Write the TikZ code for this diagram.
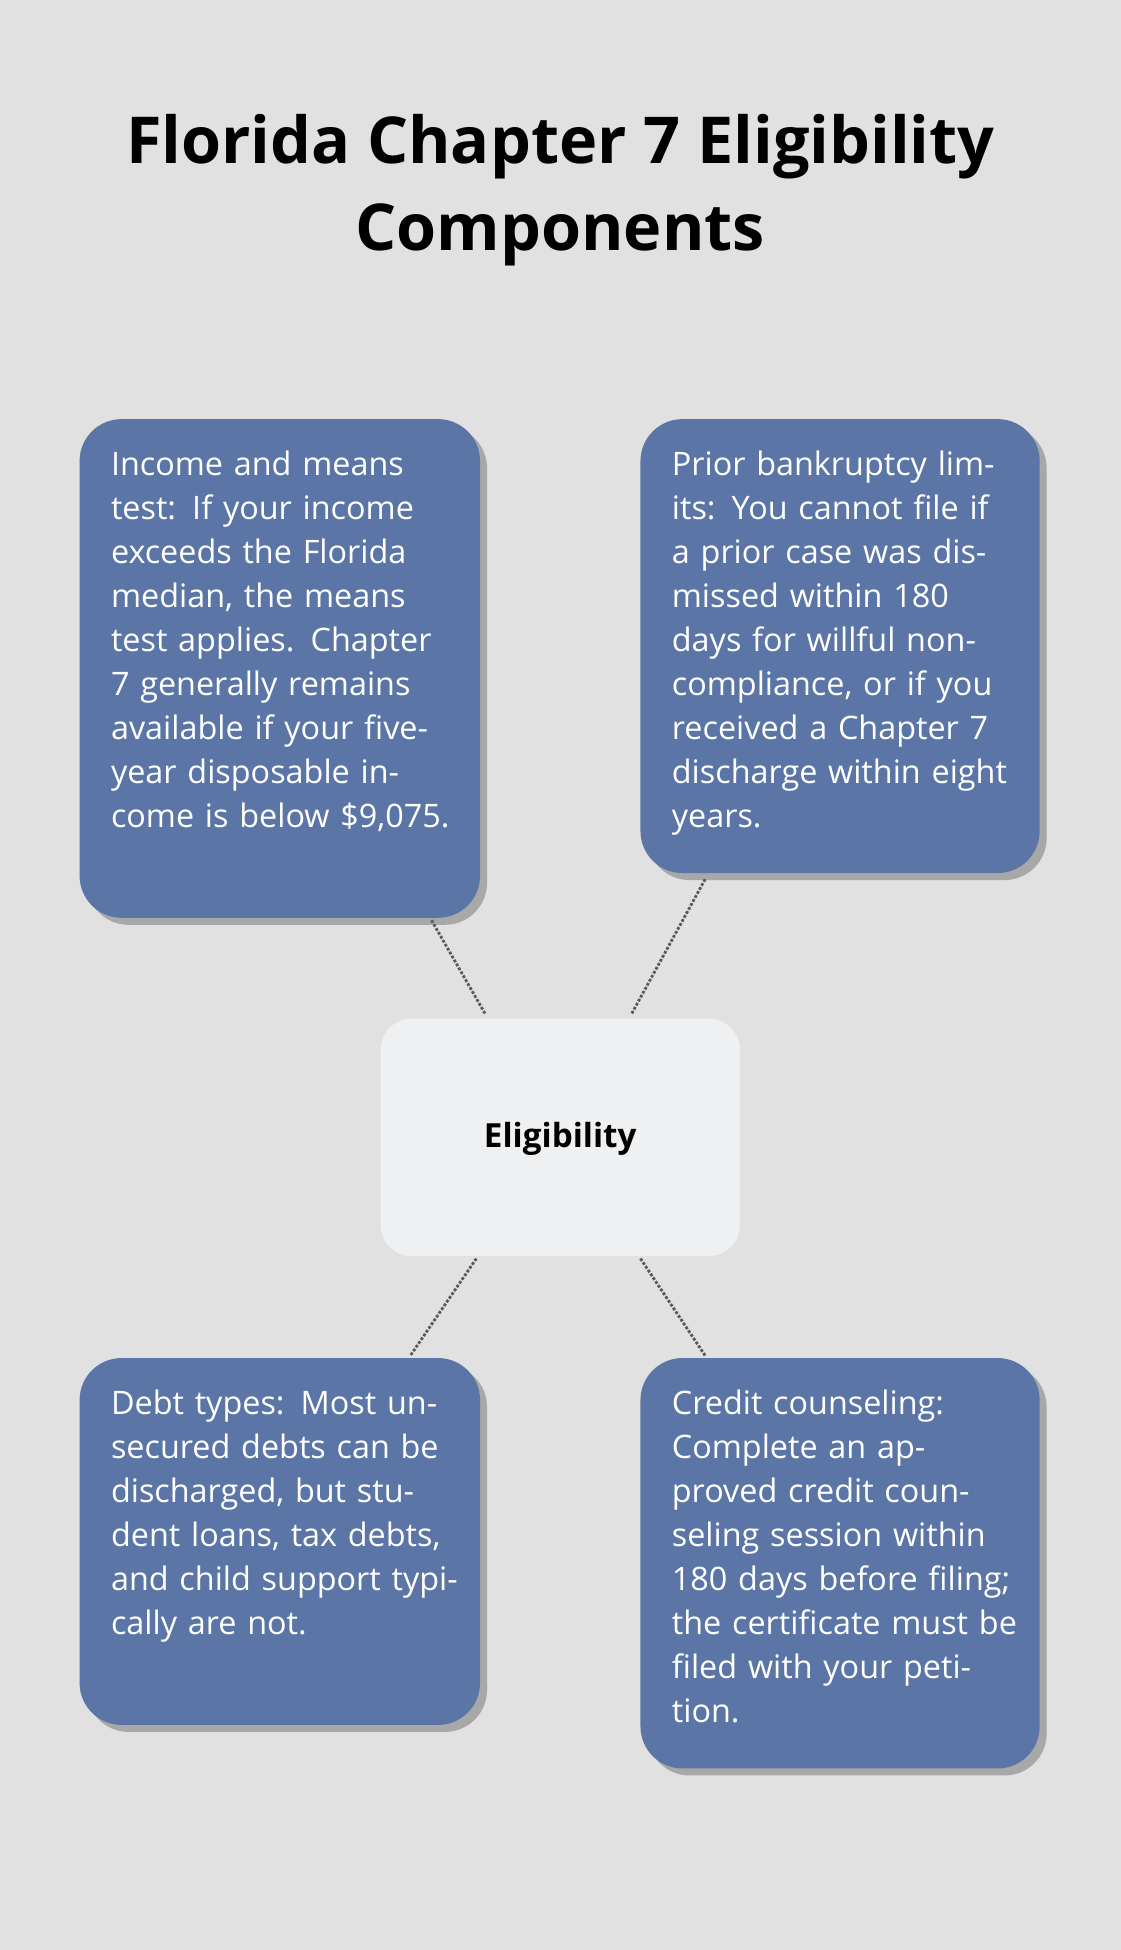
\documentclass[tikz,border=0pt]{standalone}
\usepackage{fontspec}
\setmainfont{Open Sans}
\usetikzlibrary{shadows}
\definecolor{bgcol}{HTML}{E0E1E0}
\definecolor{boxcol}{HTML}{5B76A6}
\definecolor{midcol}{HTML}{EFF0F2}
\begin{document}
\begin{tikzpicture}[x=0.025cm,y=-0.025cm,
  card/.style={fill=boxcol,rounded corners=24pt,
    drop shadow={shadow xshift=4pt,shadow yshift=-4pt,opacity=0.25,fill=black}},
  body/.style={anchor=north west,inner sep=0pt,text=white,align=left,text width=7.0cm,
    font=\fontsize{18.5pt}{25.2pt}\selectfont},
  link/.style={densely dotted,line width=1.6pt,black!65}]
  \fill[bgcol] (0,0) rectangle (901,1568);
  \useasboundingbox (0,0) rectangle (901,1568);
  \node[font=\fontsize{37pt}{50pt}\selectfont\bfseries,align=center] (title) at (450.5,153)
    {Florida Chapter 7 Eligibility\\Components};
  % cards
  \path[card] (64,337) rectangle (386,738);
  \path[card] (515,337) rectangle (836,702);
  \path[card] (64,1092) rectangle (386,1387);
  \path[card] (515,1092) rectangle (836,1422);
  \path[fill=midcol,rounded corners=18pt] (306,819) rectangle (595,1010);
  \node[font=\fontsize{19pt}{24pt}\selectfont\bfseries] (elig) at (450.5,916) {Eligibility};
  \node[body] (income) at (89,362) {Income and means test: If your income exceeds the Florida median, the means test applies. Chapter 7 generally remains available if your five-year disposable income is below \$9,075.};
  \node[body] (prior) at (540,362) {Prior bankruptcy limits: You cannot file if a prior case was dismissed within 180 days for willful noncompliance, or if you received a Chapter 7 discharge within eight years.};
  \node[body] (debt) at (89,1117) {Debt types: Most unsecured debts can be discharged, but student loans, tax debts, and child support typically are not.};
  \node[body] (credit) at (540,1117) {Credit counseling: Complete an approved credit counseling session within 180 days before filing; the certificate must be filed with your petition.};
  % connectors
  \coordinate (a1) at (347,740); \coordinate (a2) at (390,815);
  \coordinate (b1) at (567,707); \coordinate (b2) at (508,815);
  \coordinate (c1) at (383,1012); \coordinate (c2) at (330,1090);
  \coordinate (d1) at (515,1012); \coordinate (d2) at (567,1090);
  \draw[link] (a1) -- (a2);
  \draw[link] (b1) -- (b2);
  \draw[link] (c1) -- (c2);
  \draw[link] (d1) -- (d2);
\end{tikzpicture}
\end{document}
